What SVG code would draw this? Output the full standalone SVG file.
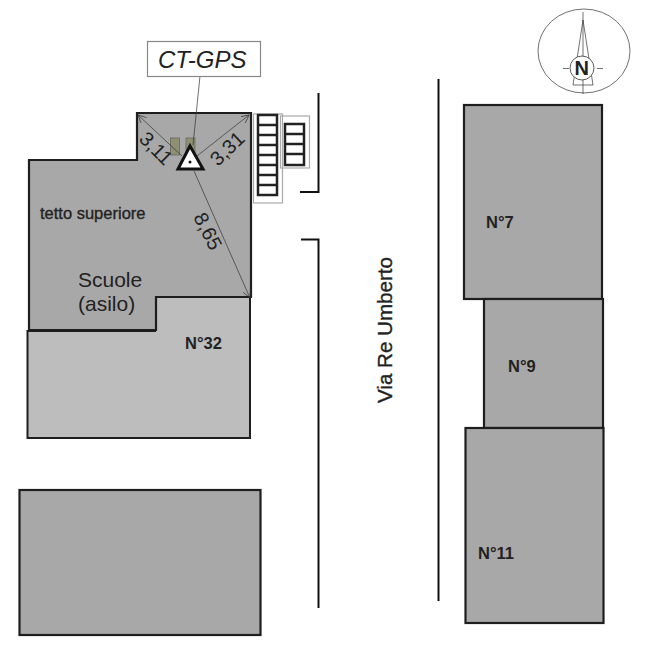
<svg xmlns="http://www.w3.org/2000/svg" width="649" height="649" viewBox="0 0 649 649">
<style>
.b{fill:#a8a8a8;stroke:#1e1e1e;stroke-width:2.200}
.l{fill:#bdbdbd;stroke:#1e1e1e;stroke-width:2}
.r{fill:none;stroke:#111;stroke-width:2}
.t{font-family:"Liberation Sans",Arial,sans-serif;fill:#222}
.m{stroke:#222;stroke-width:.35}
.tb{font-family:"Liberation Sans",Arial,sans-serif;font-weight:bold;fill:#222;font-size:16.500px}
.d{font-family:"Liberation Sans",Arial,sans-serif;fill:#222;font-size:20px}
.thin{fill:none;stroke:#333;stroke-width:.7}
.s{fill:none;stroke:#222;stroke-width:2.500}
.g{fill:none;stroke:#aaa;stroke-width:1.200}
</style>
<defs><marker id="a" markerUnits="userSpaceOnUse" markerWidth="9" markerHeight="8" refX="8" refY="4" orient="auto-start-reverse"><path d="M0 0L8 4L0 8" fill="none" stroke="#333" stroke-width=".7"/></marker></defs>
<g id="n32"><path class="l" d="M27.500 331H155V297H250V438H27.500Z"/><text class="tb" x="185" y="349">N°32</text></g>
<g id="scuole"><path class="b" d="M137 113H251V297H156V330H29V160H137Z"/>
<text class="t m" x="40" y="219" font-size="16.500">tetto superiore</text>
<text class="t" x="78" y="287" font-size="21">Scuole</text><text class="t" x="78" y="311" font-size="21">(asilo)</text></g>
<g id="stair1"><rect class="g" x="253.500" y="114" width="29" height="89"/><rect class="s" x="258" y="115" width="19" height="80"/><path class="s" d="M258 125H277M258 135H277M258 145H277M258 155H277M258 165H277M258 175H277M258 185H277"/></g>
<g id="stair2"><rect class="g" x="280.500" y="116" width="29" height="52"/><rect class="s" x="285" y="124" width="19" height="41"/><path class="s" d="M285 134H304M285 144H304M285 154H304"/></g>
<g id="vents"><rect x="170.500" y="138" width="9" height="17" fill="#8f8f74" stroke="#666" stroke-width=".8"/><rect x="186" y="138" width="9" height="17" fill="#8f8f74" stroke="#666" stroke-width=".8"/></g>
<g id="connectors">
<path class="thin" d="M138 115L182 156" marker-start="url(#a)"/>
<path class="thin" d="M249 115L197 156" marker-start="url(#a)"/>
<path class="thin" d="M194 171L250 298" marker-end="url(#a)"/>
<path class="thin" d="M200 76L193 145"/>
</g>
<g id="road"><path class="r" d="M318.500 93V192H300M301 239.500H318.500V608M438.500 79V601"/><text class="t m" font-size="21" textLength="146" lengthAdjust="spacingAndGlyphs" transform="translate(392 403) rotate(-90)">Via Re Umberto</text></g>
<g id="ctgps"><rect x="147.500" y="41.500" width="113" height="35" fill="#fff" stroke="#888" stroke-width="1.200"/><text class="t" x="158" y="68" font-size="24" font-style="italic">CT-GPS</text></g>
<g id="marker"><path d="M190 146L203 169H178Z" fill="#fff" stroke="#111" stroke-width="3"/><circle cx="190" cy="162" r="1.500" fill="#111"/></g>
<text class="d" transform="translate(138 140) rotate(45)">3,11</text>
<text class="d" transform="translate(218 167) rotate(-44)">3,31</text>
<text class="d" transform="translate(193 217) rotate(63)">8,65</text>
<g id="n7"><rect class="b" x="464" y="105" width="138" height="194"/><text class="tb" x="486" y="228">N°7</text></g>
<g id="n9"><rect class="b" x="484" y="299" width="119" height="129"/><text class="tb" x="508" y="372">N°9</text></g>
<g id="n11"><rect class="b" x="465.500" y="428" width="138" height="195"/><text class="tb" x="478" y="559">N°11</text></g>
<g id="block"><rect class="b" x="19.500" y="490" width="241" height="145"/></g>
<g id="compass"><ellipse cx="584" cy="51" rx="46" ry="42" class="thin"/><path class="thin" d="M583 12V94M583 20L573 85H593ZM563 68.500H569M597 68.500H603"/><circle cx="582" cy="68" r="12" fill="#fff" stroke="#333" stroke-width=".8"/><text x="574.500" y="75" font-family="Liberation Sans,sans-serif" font-size="20" font-weight="bold" fill="#222">N</text></g>
</svg>
